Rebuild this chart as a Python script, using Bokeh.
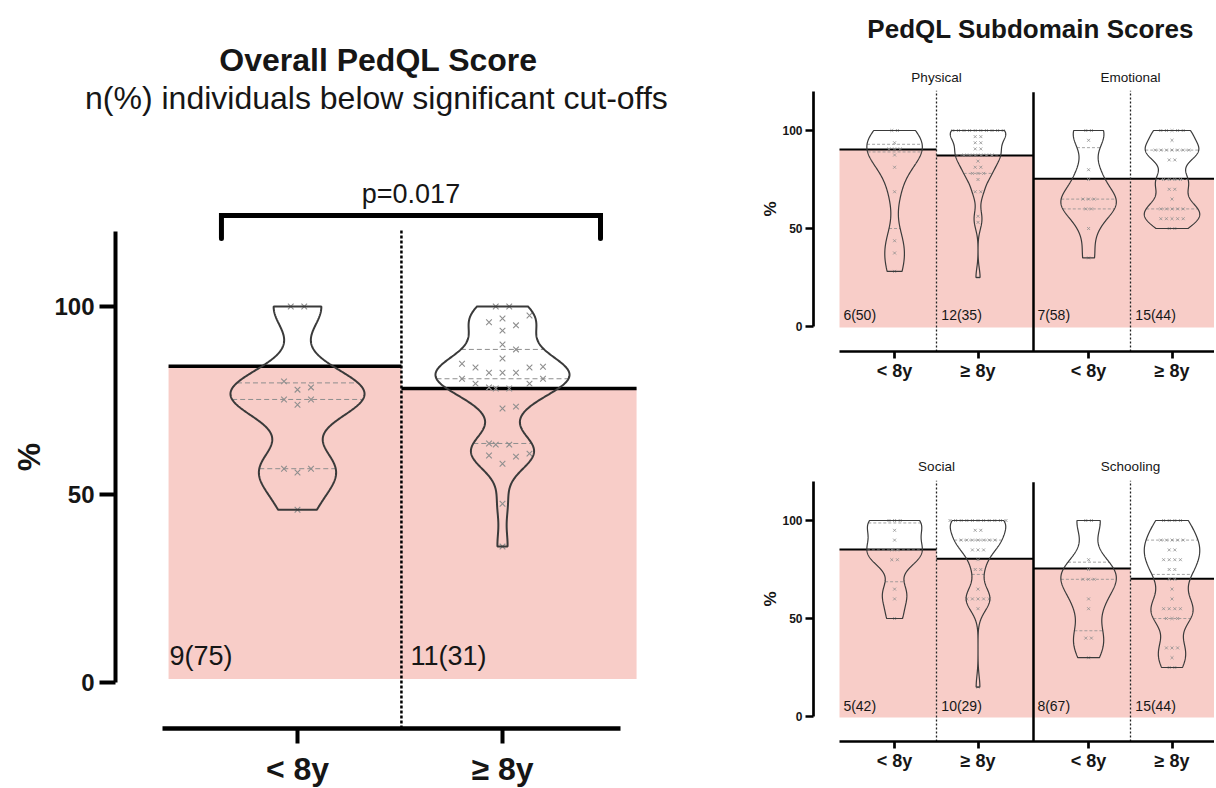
import numpy as np
from bokeh.plotting import figure
from bokeh.models import Range1d, FixedTicker, CustomJSTickFormatter
from bokeh.layouts import row, column
from bokeh.core.properties import value
from bokeh.embed import file_html
from bokeh.resources import INLINE

# ------------------------------------------------------------------ data
groups = ["< 8y", "≥ 8y"]

overall_title = "Overall PedQL Score"
overall_subtitle = "n(%) individuals below significant cut-offs"
overall_p = "p=0.017"
overall_lt8 = [46.0, 55.9, 56.9, 56.9, 73.9, 75.3, 75.3, 77.9, 78.5, 80.1, 100.0, 100.0]
overall_ge8 = [36.2, 47.6, 58.2, 60.1, 60.4, 60.9, 63.3, 63.3, 63.6, 72.9, 73.4, 78.2,
               78.2, 78.5, 79.5, 79.5, 80.8, 80.8, 82.4, 82.4, 82.4, 83.8, 83.8, 84.0,
               84.8, 86.2, 88.6, 89.9, 93.6, 95.0, 95.8, 96.8, 97.6, 100.0, 100.0]
overall_cutoffs = [84.1, 78.2]
overall_labels = ["9(75)", "11(31)"]

sub_title = "PedQL Subdomain Scores"
domains = ["Physical", "Emotional", "Social", "Schooling"]

physical_lt8 = [28.125, 37.5, 43.75, 68.75, 81.25, 87.5, 90.625, 90.625, 90.625, 93.75, 100, 100]
physical_ge8 = [25.0, 53.125, 56.25, 68.75, 68.75, 75.0, 78.125, 78.125, 78.125, 81.25, 81.25,
                84.375, 87.5, 87.5, 87.5, 87.5, 87.5, 87.5, 90.625, 90.625, 93.75, 93.75,
                96.875, 96.875, 100, 100, 100, 100, 100, 100, 100, 100, 100, 100]
physical_cutoffs = [90.3, 87.2]
physical_labels = ["6(50)", "12(35)"]

emotional_lt8 = [35, 50, 60, 60, 65, 65, 65, 75, 80, 95, 100, 100]
emotional_ge8 = [50, 50, 55, 55, 55, 55, 55, 60, 60, 60, 60, 60, 65, 70, 70, 75, 75, 75, 75,
                 85, 85, 90, 90, 90, 90, 90, 90, 90, 95, 100, 100, 100, 100, 100]
emotional_cutoffs = [75.4, 75.4]
emotional_labels = ["7(58)", "15(44)"]

social_lt8 = [50, 60, 65, 80, 80, 85, 85, 90, 95, 100, 100, 100]
social_ge8 = [15, 55, 60, 60, 60, 60, 60, 65, 75, 75, 80, 85, 85, 85, 90, 90, 90, 90, 90, 90, 90,
              95, 95, 100, 100, 100, 100, 100, 100, 100, 100, 100, 100, 100]
social_cutoffs = [85.2, 80.5]
social_labels = ["5(42)", "10(29)"]

schooling_lt8 = [30, 40, 40, 55, 60, 70, 70, 70, 75, 80, 100, 100]
schooling_ge8 = [25, 25, 30, 35, 35, 35, 50, 50, 50, 55, 55, 55, 55, 60, 65, 70, 70, 75, 75,
                 80, 80, 80, 80, 85, 85, 90, 90, 90, 90, 90, 100, 100, 100, 100]
schooling_cutoffs = [75.5, 70.3]
schooling_labels = ["8(67)", "15(44)"]

# ------------------------------------------------------------------ style
FONT = "Liberation Sans"
PINK = "#f8cdc8"
INK = "#161616"
VIOLIN = "#3a3a3a"
MARK = "#8e8e8e"


def swarm_x(vals, center, px_x, px_y, step_px, min_px):
    v = np.asarray(vals, float)
    order = np.argsort(v, kind="stable")
    placed = []
    off = np.empty(len(v))
    cands = [0]
    for m in range(1, 30):
        cands += [m, -m]
    for i in order:
        y = v[i] * px_y
        x = 0.0
        for c in cands:
            x = c * step_px
            if all((x - a) ** 2 + (y - b) ** 2 >= min_px ** 2 for a, b in placed):
                break
        placed.append((x, y))
        off[i] = x
    for u in np.unique(v):
        idx = np.where(v == u)[0]
        if len(idx) > 1:
            off[idx] -= off[idx].mean()
    return center + off / px_x


def draw_violin(p, vals, center, max_half, px_x, px_y, step_px, min_px,
                msize, mwidth, vwidth, qwidth, qdash):
    v = np.asarray(vals, float)
    n = len(v)
    q1, q2, q3 = np.percentile(v, [25, 50, 75], method="weibull")
    sd = v.std(ddof=1)
    spread = min(sd, (q3 - q1) / 1.34) if q3 > q1 else sd
    h = 0.65 * 0.9 * spread * n ** -0.2
    grid = np.linspace(v.min(), v.max(), 300)
    dens = np.exp(-0.5 * ((grid[:, None] - v[None, :]) / h) ** 2).sum(axis=1)
    half = dens / dens.max() * max_half
    qs = np.array([q1, q2, q3])
    hw = np.interp(qs, grid, half)
    p.segment(x0=center - hw, x1=center + hw, y0=qs, y1=qs,
              line_color=MARK, line_width=qwidth, line_dash=qdash)
    xp = swarm_x(v, center, px_x, px_y, step_px, min_px)
    p.scatter(x=xp, y=v, marker="x", size=msize, line_color=MARK, line_width=mwidth)
    xs = np.concatenate([center + half, (center - half)[::-1]])
    ys = np.concatenate([grid, grid[::-1]])
    p.patch(xs, ys, fill_color=None, line_color=VIOLIN, line_width=vwidth)


def make_fig(width, height, xr, yr):
    p = figure(width=width, height=height, x_range=Range1d(*xr), y_range=Range1d(*yr),
               output_backend="svg", toolbar_location=None,
               min_border_left=0, min_border_right=0, min_border_top=0, min_border_bottom=0)
    p.xgrid.visible = False
    p.ygrid.visible = False
    p.outline_line_color = None
    p.background_fill_color = "white"
    p.border_fill_color = "white"
    return p


def tick_formatter(tick_vals, tick_names):
    return CustomJSTickFormatter(args=dict(tvals=tick_vals, tnames=tick_names), code="""
        for (let i = 0; i < tvals.length; i++) {
            if (Math.abs(tvals[i] - tick) < 1e-6) { return tnames[i]; }
        }
        return "";
    """)


def txt(p, x, y, text, size, bold=False, align="center", angle=0.0):
    p.text(x=[x], y=[y], text=[text], angle=angle, text_font=value(FONT), text_font_size=size,
           text_font_style="bold" if bold else "normal", text_color=INK,
           text_align=align, text_baseline="middle")


def style_y(ax, loc, lw, tick_out, lab_size, lab_standoff):
    ax.fixed_location = loc
    ax.ticker = FixedTicker(ticks=[0, 50, 100])
    ax.bounds = (0, 120)
    ax.axis_line_width = lw
    ax.major_tick_line_width = lw
    ax.major_tick_out = tick_out
    ax.major_tick_in = 0
    ax.minor_tick_line_color = None
    ax.major_label_standoff = lab_standoff
    ax.major_label_text_font = FONT
    ax.major_label_text_font_size = lab_size
    ax.major_label_text_font_style = "bold"
    ax.major_label_text_color = INK


def style_x(ax, loc, ticks, labels, bounds, lw, tlw, tick_out, lab_size, lab_standoff):
    ax.fixed_location = loc
    ax.ticker = FixedTicker(ticks=ticks)
    ax.formatter = tick_formatter(ticks, labels)
    ax.bounds = bounds
    ax.axis_line_width = lw
    ax.major_tick_line_width = tlw
    ax.major_tick_out = tick_out
    ax.major_tick_in = 0
    ax.minor_tick_line_color = None
    ax.major_label_standoff = lab_standoff
    ax.major_label_text_font = FONT
    ax.major_label_text_font_size = lab_size
    ax.major_label_text_font_style = "bold"
    ax.major_label_text_color = INK


# ------------------------------------------------------------------ main chart
PXX, PXY = 205.0, 3.763
Y_AXIS_X, X_AXIS_Y = 0.1122, -12.145
main = make_fig(756, 787, (-0.44878, 3.23902), (-27.82, 181.32))

centers = [1.0, 2.0]
sep = 1.507
lefts = [0.371, sep]
rights = [sep, 2.654]
main.quad(left=lefts, right=rights, bottom=[1.0, 1.0], top=overall_cutoffs,
          fill_color=PINK, line_color=None)
main.segment(x0=lefts, x1=rights, y0=overall_cutoffs, y1=overall_cutoffs,
             line_color="black", line_width=3.5)
main.segment(x0=[sep], x1=[sep], y0=[X_AXIS_Y], y1=[120.2], line_color="black",
             line_width=2.5, line_dash="3 2")

for vals, c in zip([overall_lt8, overall_ge8], centers):
    draw_violin(main, vals, c, 0.327, PXX, PXY, 13.5, 12.0, 8, 1.1, 2.0, 1.0, "5 3")

main.text(x=[0.376, 1.551], y=[7.0, 7.0], text=overall_labels, text_font=value(FONT),
          text_font_size="27px", text_color=INK, text_align="left", text_baseline="middle")

# significance bracket
bx0, bx1, btop, bleg = 0.629, 2.478, 124.2, 118.1
main.line(x=[bx0, bx0, bx1, bx1], y=[bleg, btop, btop, bleg], line_color="black",
          line_width=5, line_join="miter", line_cap="round")
txt(main, (bx0 + bx1) / 2, 129.8, overall_p, "27px")
txt(main, 1.395, 165.4, overall_title, "32px", bold=True)
txt(main, 1.385, 155.3, overall_subtitle, "32px")
txt(main, -0.312, 60.0, "%", "32px", bold=True, angle=np.pi / 2)

style_y(main.yaxis[0], Y_AXIS_X, 4, 16, "24px", 5)
style_x(main.xaxis[0], X_AXIS_Y, centers, groups, (0.341, 2.576), 4.5, 4, 15, "32px", 7)


# ------------------------------------------------------------------ subdomain charts
SPX, SPY = 194.0, 1.96
SUB_Y_AXIS_X, SUB_X_AXIS_Y = -0.13402, -12.755
sub_centers_in_panel = [0.284, 0.714]


def make_sub(height, yr, panel_names, panel_data, panel_cuts, panel_labels,
             label_y, name_y, title=None, title_y=None):
    p = make_fig(458, height, (-0.42784, 1.93299), yr)
    ticks = []
    tick_labels = []
    for k, (name, data, cuts, labs) in enumerate(zip(panel_names, panel_data, panel_cuts, panel_labels)):
        sp = k + 0.5
        l = [k + 0.0, sp]
        r = [sp, k + 1.0]
        p.quad(left=l, right=r, bottom=[-0.5, -0.5], top=cuts, fill_color=PINK, line_color=None)
        p.segment(x0=l, x1=r, y0=cuts, y1=cuts, line_color="black", line_width=2)
        p.segment(x0=[sp], x1=[sp], y0=[SUB_X_AXIS_Y], y1=[120.3], line_color="#222222",
                  line_width=1.3, line_dash="2 2")
        for vals, off in zip(data, sub_centers_in_panel):
            draw_violin(p, vals, k + off, 0.143, SPX, SPY, 5.6, 5.0, 4.2, 0.8, 1.2, 0.8, "3 2")
            ticks.append(k + off)
        tick_labels += groups
        p.text(x=[k + 0.02, k + 0.525], y=[label_y, label_y], text=labs, text_font=value(FONT),
               text_font_size="14px", text_color=INK, text_align="left",
               text_baseline="middle")
        txt(p, sp, name_y, name, "13.5px")
    p.segment(x0=[1.0], x1=[1.0], y0=[SUB_X_AXIS_Y], y1=[119.5], line_color="black",
              line_width=2.5)
    if title is not None:
        txt(p, 0.985, title_y, title, "26px", bold=True)
    txt(p, -0.356, 60.0, "%", "17px", bold=True, angle=np.pi / 2)

    style_y(p.yaxis[0], SUB_Y_AXIS_X, 2.7, 8, "12px", 3)
    style_x(p.xaxis[0], SUB_X_AXIS_Y, ticks, tick_labels, (0.0, 2.0), 2.7, 2.7, 7, "18px", 2)
    return p


sub_top = make_sub(392, (-33.67, 166.33), domains[:2],
                   [[physical_lt8, physical_ge8], [emotional_lt8, emotional_ge8]],
                   [physical_cutoffs, emotional_cutoffs], [physical_labels, emotional_labels],
                   label_y=6.1, name_y=127.0, title=sub_title, title_y=152.0)
sub_bot = make_sub(395, (-36.22, 165.31), domains[2:],
                   [[social_lt8, social_ge8], [schooling_lt8, schooling_ge8]],
                   [social_cutoffs, schooling_cutoffs], [social_labels, schooling_labels],
                   label_y=5.3, name_y=127.4)

layout = row(main, column(sub_top, sub_bot))
open("out.html", "w").write(file_html(layout, INLINE))
